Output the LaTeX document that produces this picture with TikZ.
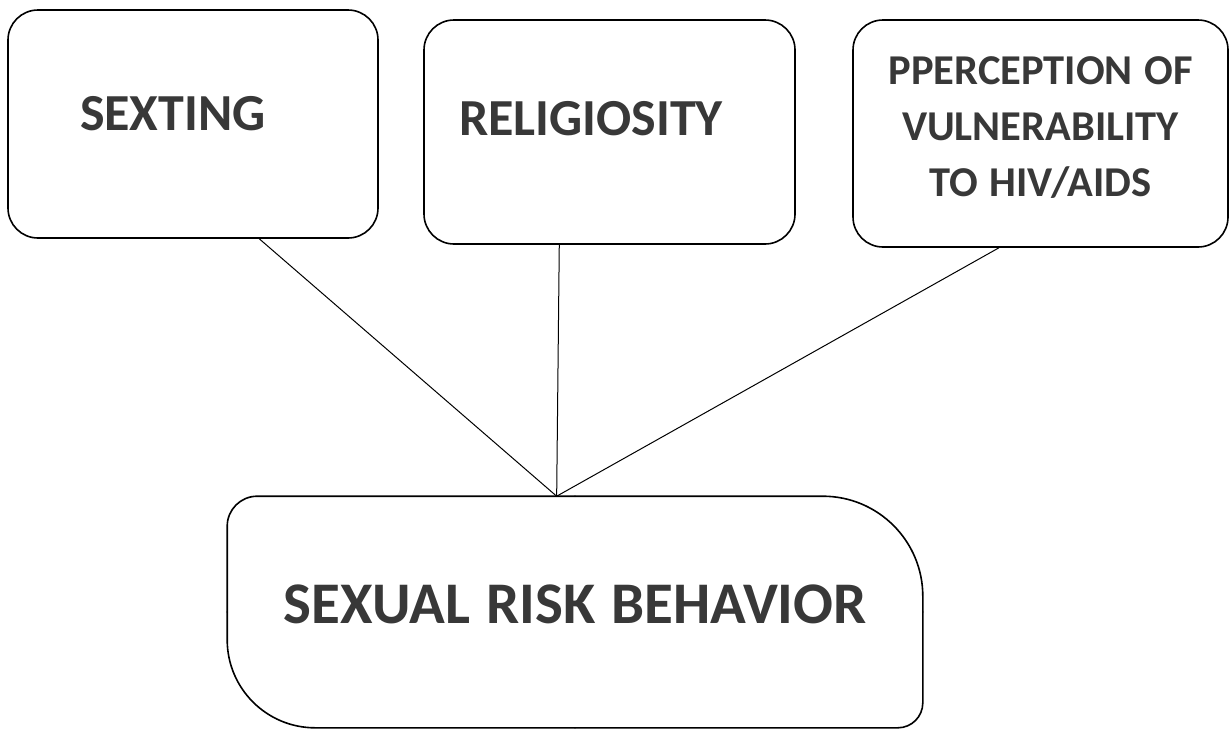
\documentclass[tikz,border=0pt]{standalone}
\usepackage{fontspec}
\setmainfont{Carlito}
\usepackage{xcolor}
\usetikzlibrary{arrows.meta}
\definecolor{ink}{HTML}{383838}

\begin{document}
\begin{tikzpicture}[x=1pt,y=-1pt,line width=1pt]
	\tikzstyle{box}=[draw,rounded corners=30pt,line width=1.6pt,inner ysep=0pt,text=ink,font=\bfseries,
	                 execute at begin node={\spaceskip=0.27em\relax}]
	\tikzstyle{outline}=[line width=1.6pt,line cap=round]
	\useasboundingbox (0,0) rectangle (1230,732);

	\node[box,text width=226pt,inner xsep=72pt,align=left,text height=120pt,text depth=108pt,
	      font=\bfseries\fontsize{52}{60}\selectfont] (sexting) at (193,124) {SEXTING};
	\node[box,text width=301pt,inner xsep=35pt,align=left,text height=115pt,text depth=109pt,
	      font=\bfseries\fontsize{52}{60}\selectfont] (relig) at (609.5,132) {RELIGIOSITY};
	\node[box,text width=355pt,inner xsep=10pt,align=center,text height=64pt,text depth=163pt,
	      font=\bfseries\fontsize{42.5}{56}\selectfont] (percep) at (1040.5,133.5)
	      {PPERCEPTION OF\\VULNERABILITY\\TO HIV/AIDS};
	\node[box,draw=none,text width=694pt,inner xsep=0pt,align=center,text height=126pt,text depth=104pt,
	      font=\bfseries\fontsize{59}{66}\selectfont] (sbr) at (575,612) {SEXUAL RISK BEHAVIOR};

	% outline of the bottom box, one corner at a time
	\draw[outline,rounded corners=100pt] (sbr.north) -| (sbr.east);
	\draw[outline,rounded corners=25pt]  (sbr.east) |- (sbr.south);
	\draw[outline,rounded corners=88pt]  (sbr.south) -| (sbr.west);
	\draw[outline,rounded corners=30pt]  (sbr.west) |- (sbr.north);

	\path (sexting.-60) edge (sbr.99);
	\path (relig.-114) edge (sbr.99);
	\path (percep.-110) edge (sbr.99);
\end{tikzpicture}
\end{document}
